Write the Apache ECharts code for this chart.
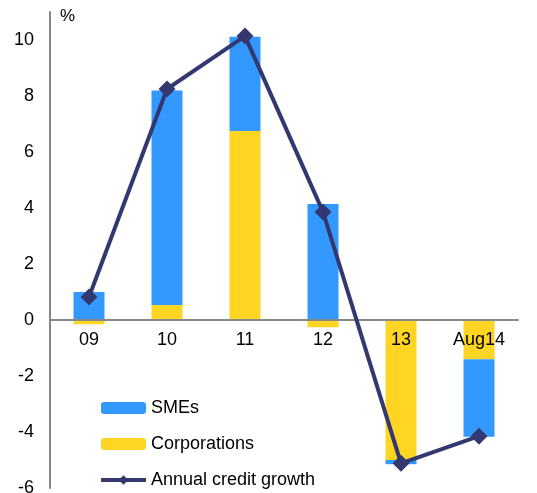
<!DOCTYPE html>
<html><head><meta charset="utf-8">
<script src="https://cdn.jsdelivr.net/npm/echarts@6/dist/echarts.min.js"></script>
<style>html,body{margin:0;padding:0;background:#fff}#c{width:537px;height:493px}</style>
</head><body><div id="c"></div>
<script>
const categories = ['09', '10', '11', '12', '13', 'Aug14'];
const smes = [1.0, 7.66, 3.37, 4.14, -0.15, -2.77];
const corporations = [-0.15, 0.54, 6.75, -0.26, -5.0, -1.4];
const creditGrowth = [0.82, 8.25, 10.14, 3.86, -5.12, -4.15];
const yTicks = [-6, -4, -2, 0, 2, 4, 6, 8, 10];

const chart = echarts.init(document.getElementById('c'));
const font = 'Liberation Sans, Arial, sans-serif';
chart.setOption({
  animation: false,
  grid: { left: 50, right: 19, top: 12, bottom: 5, containLabel: false, outerBoundsMode: 'none' },
  graphic: [{ type: 'text', left: 60, top: 8, style: { text: '%', font: '17px ' + font, fill: '#000' } }],
  legend: {
    orient: 'vertical', left: 99, top: 399, padding: 0, height: 94,
    itemWidth: 45, itemHeight: 12, itemGap: 18,
    data: ['SMEs', 'Corporations', { name: 'Annual credit growth', lineStyle: { width: 4 } }],
    textStyle: { fontFamily: font, fontSize: 18, color: '#000' }
  },
  xAxis: {
    type: 'category', data: categories, position: 'bottom', offset: -168,
    axisLine: { onZero: false, lineStyle: { color: '#888', width: 2 } },
    axisTick: { show: false },
    axisLabel: { fontFamily: font, fontSize: 18, color: '#000', margin: 11 },
    z: 10
  },
  yAxis: {
    type: 'value', min: -6, max: 11, interval: 2,
    splitLine: { show: false },
    axisLine: { show: true, lineStyle: { color: '#888', width: 2 } },
    axisTick: { show: false },
    axisLabel: {
      fontFamily: font, fontSize: 18, color: '#000', margin: 16,
      formatter: v => yTicks.includes(v) ? String(v) : ''
    }
  },
  series: [
    { name: 'Corporations', type: 'bar', stack: 's', data: corporations, barWidth: 31,
      itemStyle: { color: '#FFD524' } },
    { name: 'SMEs', type: 'bar', stack: 's', data: smes, barWidth: 31,
      itemStyle: { color: '#3399FF' } },
    { name: 'Annual credit growth', type: 'line', data: creditGrowth, z: 20,
      symbol: 'diamond', symbolSize: 17,
      lineStyle: { color: '#333870', width: 4 },
      itemStyle: { color: '#333870' } }
  ]
});
</script></body></html>
